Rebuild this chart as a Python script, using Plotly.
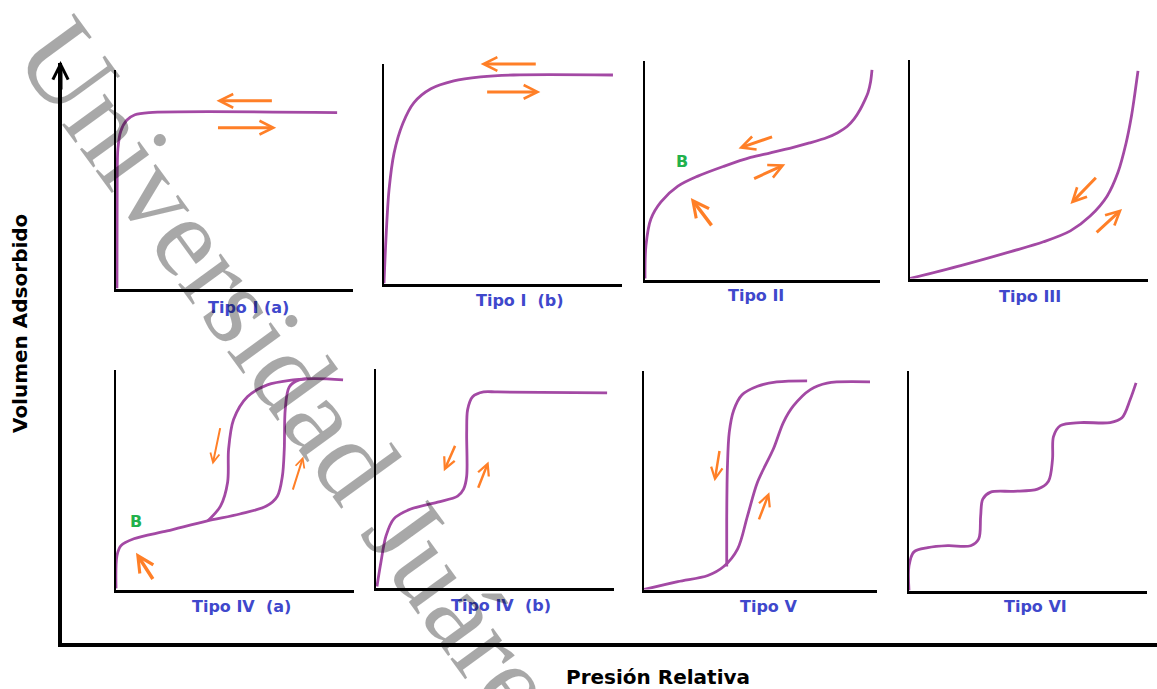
import plotly.graph_objects as go

W, H = 1157, 689

# ---------------- data (normalised relative pressure / adsorbed volume) ----------------
t1a_x = [0.004, 0.005, 0.008, 0.020, 0.045, 0.080, 0.140, 0.933]
t1a_y = [0.000, 0.500, 0.640, 0.720, 0.770, 0.795, 0.805, 0.805]

t1b_x = [0.000, 0.008, 0.021, 0.042, 0.079, 0.126, 0.197, 0.293, 0.406, 0.544, 0.962]
t1b_y = [0.000, 0.199, 0.425, 0.593, 0.729, 0.824, 0.887, 0.923, 0.941, 0.950, 0.950]

t2_x = [0.000, 0.004, 0.025, 0.068, 0.140, 0.225, 0.335, 0.449, 0.534, 0.631, 0.700, 0.775, 0.820,
        0.860, 0.890, 0.915, 0.935, 0.949, 0.960, 0.966]
t2_y = [0.005, 0.155, 0.277, 0.355, 0.427, 0.473, 0.518, 0.559, 0.580, 0.605, 0.625, 0.650, 0.672,
        0.700, 0.735, 0.777, 0.820, 0.855, 0.905, 0.959]

t3_x = [0.000, 0.213, 0.423, 0.561, 0.674, 0.757, 0.828, 0.874, 0.908, 0.930, 0.944, 0.958]
t3_y = [0.000, 0.059, 0.123, 0.168, 0.218, 0.286, 0.377, 0.486, 0.620, 0.740, 0.840, 0.950]

t4a_ads_x = [0.000, 0.004, 0.021, 0.075, 0.215, 0.380, 0.520, 0.632, 0.678, 0.699, 0.707, 0.711, 0.728, 0.770, 0.954]
t4a_ads_y = [0.005, 0.154, 0.200, 0.231, 0.267, 0.312, 0.344, 0.380, 0.425, 0.516, 0.638, 0.819, 0.923, 0.955, 0.955]
t4a_des_x = [0.385, 0.439, 0.469, 0.473, 0.494, 0.552, 0.636, 0.745, 0.803]
t4a_des_y = [0.312, 0.380, 0.489, 0.638, 0.774, 0.878, 0.932, 0.955, 0.960]

t4b_x = [0.004, 0.021, 0.042, 0.075, 0.146, 0.259, 0.343, 0.368, 0.381, 0.381, 0.385, 0.406, 0.452, 0.510, 0.971]
t4b_y = [0.005, 0.118, 0.236, 0.314, 0.359, 0.391, 0.418, 0.450, 0.509, 0.709, 0.814, 0.873, 0.895, 0.895, 0.891]

t5_ads_x = [0.000, 0.145, 0.274, 0.342, 0.402, 0.444, 0.487, 0.556, 0.598, 0.641, 0.714, 0.786, 0.970]
t5_ads_y = [0.000, 0.036, 0.064, 0.105, 0.186, 0.336, 0.491, 0.645, 0.764, 0.840, 0.915, 0.945, 0.950]
t5_des_x = [0.355, 0.355, 0.358, 0.366, 0.385, 0.420, 0.487, 0.570, 0.700]
t5_des_y = [0.105, 0.320, 0.560, 0.720, 0.820, 0.890, 0.930, 0.950, 0.955]

t6_x = [0.000, 0.000, 0.021, 0.079, 0.163, 0.259, 0.293, 0.301, 0.310, 0.343, 0.439, 0.540, 0.586, 0.603, 0.607, 0.636, 0.720, 0.845, 0.895, 0.929, 0.954]
t6_y = [0.000, 0.113, 0.176, 0.195, 0.204, 0.204, 0.235, 0.339, 0.416, 0.448, 0.452, 0.462, 0.498, 0.597, 0.701, 0.751, 0.765, 0.765, 0.787, 0.869, 0.946]

panel_labels = ["Tipo I (a)", "Tipo I&nbsp; (b)", "Tipo II", "Tipo III",
                "Tipo IV&nbsp; (a)", "Tipo IV&nbsp; (b)", "Tipo V", "Tipo VI"]

# curves: (panel, x values, y values)
curves = [
    (1, t1a_x, t1a_y), (2, t1b_x, t1b_y), (3, t2_x, t2_y), (4, t3_x, t3_y),
    (5, t4a_ads_x, t4a_ads_y), (5, t4a_des_x, t4a_des_y),
    (6, t4b_x, t4b_y), (7, t5_ads_x, t5_ads_y), (7, t5_des_x, t5_des_y),
    (8, t6_x, t6_y),
]

# arrows: (panel, tail x, tail y, head x, head y)
arrows = [
    (1, 0.664, 0.859, 0.424, 0.859), (1, 0.424, 0.736, 0.676, 0.736),
    (2, 0.644, 1.000, 0.406, 1.000), (2, 0.427, 0.873, 0.657, 0.873),
    (3, 0.288, 0.241, 0.195, 0.373), (3, 0.547, 0.655, 0.398, 0.600), (3, 0.458, 0.459, 0.597, 0.527),
    (4, 0.787, 0.468, 0.674, 0.341), (4, 0.778, 0.205, 0.891, 0.318),
    (5, 0.159, 0.041, 0.084, 0.167), (5, 0.439, 0.742, 0.406, 0.570), (5, 0.741, 0.448, 0.787, 0.606),
    (6, 0.335, 0.655, 0.285, 0.532), (6, 0.427, 0.450, 0.473, 0.577),
    (7, 0.325, 0.641, 0.303, 0.495), (7, 0.491, 0.314, 0.538, 0.445),
]
arrow_widths = [3, 3, 3, 3, 3.5, 3, 3, 3, 3, 3.5, 2, 2, 2.5, 2.5, 2.5, 2.5]

# "B" point markers: (panel, x, y)
b_points = [(3, 0.157, 0.541), (5, 0.084, 0.312)]

# ---------------- layout geometry (pixels) ----------------
boxes = [  # left, right, top, bottom of each small panel's axes
    (115, 353, 70, 290), (383, 622, 64, 285), (644, 880, 61, 281), (909, 1148, 60, 280),
    (115, 354, 370, 591), (375, 614, 369, 589), (643, 877, 371, 591), (908, 1147, 371, 592),
]
label_pos = [(248, 307), (520, 300), (756, 295), (1030, 296),
             (241, 606), (501, 605), (768, 606), (1035, 606)]


def px(x):
    return x / W


def py(y):
    return 1 - y / H


PURPLE = "#a349a4"
ORANGE = "#ff7f27"
BLUE = "#3f48cc"
GREEN = "#22b14c"

fig = go.Figure()
layout = dict(
    width=W, height=H, margin=dict(l=0, r=0, t=0, b=0),
    paper_bgcolor="white", plot_bgcolor="rgba(0,0,0,0)", showlegend=False,
)


def axname(i):
    return "" if i == 1 else str(i)


for i, (l, r, t, b) in enumerate(boxes, start=1):
    s = axname(i)
    layout["xaxis" + s] = dict(domain=[px(l + 1), px(r)], range=[0, 1], anchor="y" + s,
                               showline=True, linecolor="black", linewidth=3, mirror=False,
                               showgrid=False, zeroline=False, showticklabels=False, ticks="",
                               fixedrange=True)
    layout["yaxis" + s] = dict(domain=[py(b - 1.5), py(t)], range=[0, 1], anchor="x" + s,
                               showline=True, linecolor="black", linewidth=2, mirror=False,
                               showgrid=False, zeroline=False, showticklabels=False, ticks="",
                               fixedrange=True)

# big outer axes
layout["xaxis9"] = dict(domain=[px(62), 1], range=[0, 1], anchor="y9", showline=True,
                        linecolor="black", linewidth=4, showgrid=False, zeroline=False,
                        showticklabels=False, ticks="", fixedrange=True)
layout["yaxis9"] = dict(domain=[py(643), py(63)], range=[0, 1], anchor="x9", showline=True,
                        linecolor="black", linewidth=4, showgrid=False, zeroline=False,
                        showticklabels=False, ticks="", fixedrange=True)
fig.add_trace(go.Scatter(x=[0.5], y=[0.5], xaxis="x9", yaxis="y9", mode="markers",
                         marker=dict(opacity=0), hoverinfo="skip"))

for p, xs, ys in curves:
    s = axname(p)
    fig.add_trace(go.Scatter(x=xs, y=ys, xaxis="x" + s, yaxis="y" + s, mode="lines",
                             line=dict(color=PURPLE, width=2.8, shape="spline", smoothing=0.9),
                             hoverinfo="skip"))

annotations = []
for (p, tx, ty, hx, hy), w in zip(arrows, arrow_widths):
    s = axname(p)
    annotations.append(dict(x=hx, y=hy, ax=tx, ay=ty, xref="x" + s, yref="y" + s,
                            axref="x" + s, ayref="y" + s, text="", showarrow=True,
                            arrowhead=5, arrowsize=0.9, arrowwidth=w, arrowcolor=ORANGE,
                            standoff=0))

for p, bx, by in b_points:
    s = axname(p)
    annotations.append(dict(x=bx, y=by, xref="x" + s, yref="y" + s, text="<b>B</b>",
                            showarrow=False, font=dict(family="DejaVu Sans", size=16, color=GREEN)))

for lbl, (lx, ly) in zip(panel_labels, label_pos):
    annotations.append(dict(x=px(lx), y=py(ly), xref="paper", yref="paper", text="<b>" + lbl + "</b>",
                            showarrow=False, xanchor="center", yanchor="middle",
                            font=dict(family="DejaVu Sans", size=16, color=BLUE)))

# arrow tip of the big vertical axis
annotations.append(dict(x=px(60.5), y=py(61), xref="paper", yref="paper", ax=0, ay=30,
                        text="", showarrow=True, arrowhead=5, arrowsize=0.75,
                        arrowwidth=4, arrowcolor="black", standoff=0))

annotations.append(dict(x=px(20), y=py(324), xref="paper", yref="paper",
                        text="<b>Volumen Adsorbido</b>", textangle=-90, showarrow=False,
                        xanchor="center", yanchor="middle",
                        font=dict(family="DejaVu Sans", size=20, color="black")))
annotations.append(dict(x=px(658), y=py(677), xref="paper", yref="paper",
                        text="<b>Presión Relativa</b>", showarrow=False,
                        xanchor="center", yanchor="middle",
                        font=dict(family="DejaVu Sans", size=20, color="black")))

# watermark
annotations.append(dict(x=px(303), y=py(390), xref="paper", yref="paper",
                        text="Universidad Juárez", textangle=54, showarrow=False,
                        xanchor="center", yanchor="middle",
                        font=dict(family="Liberation Serif", size=115, color="rgba(0,0,0,0.34)")))

layout["annotations"] = annotations
fig.update_layout(**layout)
fig.write_html("out.html")
